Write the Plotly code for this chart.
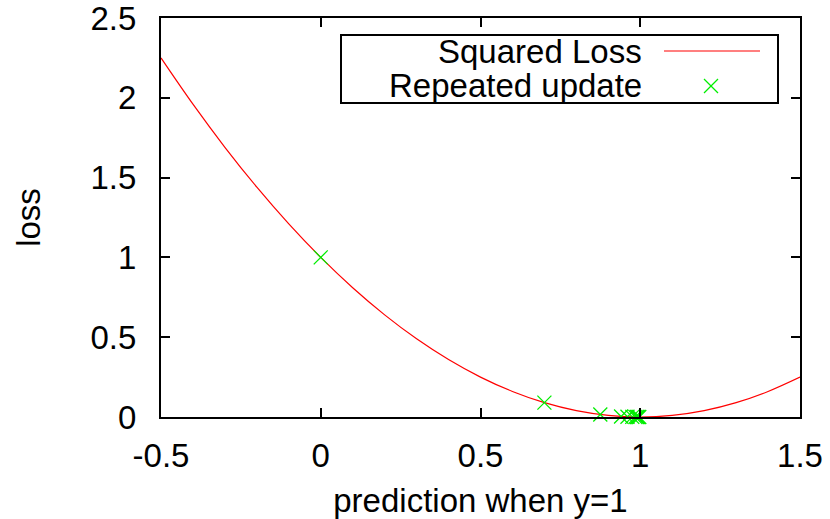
import plotly.graph_objects as go

# Squared loss curve samples (prediction, loss)
curve_x = [-0.5, -0.4, -0.3, -0.2, -0.1, 0.0, 0.1, 0.2, 0.3, 0.4, 0.5, 0.6, 0.7, 0.8, 0.9,
           1.0, 1.1, 1.2, 1.3, 1.4, 1.5]
curve_y = [2.25, 1.96, 1.69, 1.44, 1.21, 1.00, 0.81, 0.64, 0.49, 0.36, 0.25, 0.16, 0.09, 0.04, 0.01,
           0.00, 0.01, 0.04, 0.09, 0.16, 0.25]

# Repeated update points
upd_x = [0.0, 0.70, 0.875, 0.94, 0.96, 0.975, 0.985, 0.99, 0.994, 0.997]
upd_y = [1.0, 0.09, 0.0156, 0.0036, 0.0016, 0.0006, 0.0002, 0.0001, 0.00004, 0.00001]

x_ticks = [-0.5, 0, 0.5, 1, 1.5]
x_tick_text = ["-0.5", "0", "0.5", "1", "1.5"]
y_ticks = [0, 0.5, 1, 1.5, 2, 2.5]
y_tick_text = ["0", "0.5", "1", "1.5", "2", "2.5"]

FONT = "Liberation Sans, Arial, Helvetica, sans-serif"
FS = 33

fig = go.Figure()
fig.add_trace(go.Scatter(x=curve_x, y=curve_y, mode="lines", name="Squared Loss",
                         line=dict(color="#ff0000", width=1.2, shape="spline"),
                         showlegend=False, cliponaxis=True))
fig.add_trace(go.Scatter(x=upd_x, y=upd_y, mode="markers", name="Repeated update",
                         marker=dict(symbol="x-thin-open", size=14, color="#00ee00",
                                     line=dict(color="#00ee00", width=1.3)),
                         showlegend=False, cliponaxis=False))

axis_common = dict(showline=True, linecolor="black", linewidth=2, mirror="allticks",
                   ticks="inside", ticklen=9, tickwidth=2, tickcolor="black",
                   showgrid=False, zeroline=False, automargin=False,
                   ticklabeloverflow="allow",
                   tickfont=dict(family=FONT, size=FS, color="black"))

fig.update_xaxes(range=[-0.5, 1.5], tickvals=x_ticks, ticktext=x_tick_text,
                 ticklabelstandoff=8,
                 title=dict(text="prediction when y=1", font=dict(family=FONT, size=FS, color="black"),
                            standoff=18),
                 **axis_common)
fig.update_yaxes(range=[0, 2.5], tickvals=y_ticks, ticktext=y_tick_text,
                 ticklabelstandoff=16,
                 title=dict(text="loss", font=dict(family=FONT, size=FS, color="black"), standoff=40),
                 **axis_common)

# gnuplot-style legend box (key) in paper coordinates
L, R, T, B = 161, 800, 18, 417
W, H = 830, 519
def px(x):
    return (x - L) / (R - L)
def py(y):
    return (B - y) / (B - T)

shapes = [
    dict(type="rect", xref="paper", yref="paper", x0=px(341), x1=px(778), y0=py(103), y1=py(35),
         line=dict(color="black", width=2), fillcolor="white", layer="above"),
    dict(type="line", xref="paper", yref="paper", x0=px(664), x1=px(760), y0=py(51), y1=py(51),
         line=dict(color="#ff0000", width=1.2), layer="above"),
    dict(type="line", xref="paper", yref="paper", x0=px(704), x1=px(718), y0=py(79), y1=py(93),
         line=dict(color="#00ee00", width=1.3), layer="above"),
    dict(type="line", xref="paper", yref="paper", x0=px(704), x1=px(718), y0=py(93), y1=py(79),
         line=dict(color="#00ee00", width=1.3), layer="above"),
]
annotations = [
    dict(xref="paper", yref="paper", x=px(644), y=py(51), text="Squared Loss", showarrow=False,
         xanchor="right", yanchor="middle", font=dict(family=FONT, size=FS, color="black")),
    dict(xref="paper", yref="paper", x=px(644), y=py(85), text="Repeated update", showarrow=False,
         xanchor="right", yanchor="middle", font=dict(family=FONT, size=FS, color="black")),
]

fig.update_layout(width=W, height=H, margin=dict(l=L, r=W - R, t=T, b=H - B),
                  plot_bgcolor="white", paper_bgcolor="white",
                  shapes=shapes, annotations=annotations, showlegend=False)

fig.write_html("out.html")
